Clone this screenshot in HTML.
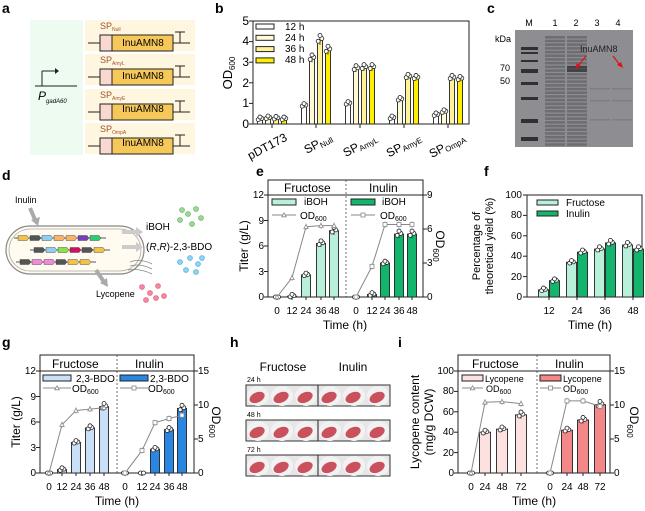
<!DOCTYPE html>
<html><head><meta charset="utf-8"><style>
body{margin:0;background:#fff}
svg{display:block;font-family:"Liberation Sans",Arial,sans-serif}
.pl{font-weight:bold;font-size:14px}
.t{font-size:10px}
.ax{font-size:12px}
</style></head><body>
<svg id="s" width="645" height="511" viewBox="0 0 645 511" xmlns="http://www.w3.org/2000/svg">
<g id="g"></g>
<text class="pl" x="2" y="13">a</text>
<text class="pl" x="215" y="13">b</text>
<text class="pl" x="487" y="13">c</text>
<text class="pl" x="2" y="180">d</text>
<text class="pl" x="256" y="176">e</text>
<text class="pl" x="484" y="176">f</text>
<text class="pl" x="2" y="347">g</text>
<text class="pl" x="230" y="347">h</text>
<text class="pl" x="398" y="347">i</text>

<g font-size="9" fill="#a0522d">
<text x="100" y="29">SP<tspan font-size="5" dy="2">Null</tspan></text>
<text x="100" y="63">SP<tspan font-size="5" dy="2">AmyL</tspan></text>
<text x="100" y="98">SP<tspan font-size="5" dy="2">AmyE</tspan></text>
<text x="100" y="132">SP<tspan font-size="5" dy="2">OmpA</tspan></text>
</g>
<g font-size="10" text-anchor="middle">
<text x="143" y="46">InuAMN8</text>
<text x="143" y="79">InuAMN8</text>
<text x="143" y="112">InuAMN8</text>
<text x="143" y="146">InuAMN8</text>
</g>
<text x="38" y="100" font-size="12" font-style="italic">P<tspan font-size="6" dy="3">gadA60</tspan></text>

<g font-size="12" text-anchor="end">
<text x="249" y="128">0</text><text x="249" y="107">1</text><text x="249" y="87">2</text>
<text x="249" y="66">3</text><text x="249" y="45">4</text><text x="249" y="25">5</text>
</g>
<text transform="translate(232,73) rotate(-90)" font-size="13" text-anchor="middle">OD<tspan font-size="8" dy="3">600</tspan></text>
<g font-size="10">
<text x="285" y="30">12 h</text><text x="285" y="41">24 h</text><text x="285" y="52">36 h</text><text x="285" y="63">48 h</text>
</g>
<g font-size="12" text-anchor="end">
<text transform="translate(288,140) rotate(-28)">pDT173</text>
<text transform="translate(333,140) rotate(-28)">SP<tspan font-size="8" dy="2">Null</tspan></text>
<text transform="translate(378,140) rotate(-28)">SP<tspan font-size="8" dy="2">AmyL</tspan></text>
<text transform="translate(422,140) rotate(-28)">SP<tspan font-size="8" dy="2">AmyE</tspan></text>
<text transform="translate(466,140) rotate(-28)">SP<tspan font-size="8" dy="2">OmpA</tspan></text>
</g>

<g font-size="9" text-anchor="middle">
<text x="529" y="26">M</text><text x="555" y="26">1</text><text x="576" y="26">2</text><text x="597" y="26">3</text><text x="618" y="26">4</text>
</g>
<g font-size="9" text-anchor="end">
<text x="511" y="42">kDa</text><text x="510" y="71">70</text><text x="510" y="84">50</text>
</g>
<text x="580" y="52" font-size="9" fill="#222">InuAMN8</text>

<text x="15" y="203" font-size="9">Inulin</text>
<text x="146" y="230" font-size="10">iBOH</text>
<text x="146" y="250" font-size="10">(<tspan font-style="italic">R</tspan>,<tspan font-style="italic">R</tspan>)-2,3-BDO</text>
<text x="96" y="297" font-size="9">Lycopene</text>

<text x="284" y="192" font-size="12">Fructose</text>
<text x="369" y="192" font-size="12">Inulin</text>
<g class="t" text-anchor="end">
<text x="264" y="300">0</text><text x="264" y="275">3</text><text x="264" y="249">6</text><text x="264" y="224">9</text><text x="264" y="198">12</text>
</g>
<g class="t">
<text x="427" y="300">0</text><text x="427" y="266">3</text><text x="427" y="232">6</text><text x="427" y="198">9</text>
</g>
<g class="t" text-anchor="middle">
<text x="277" y="314">0</text><text x="292" y="314">12</text><text x="306" y="314">24</text><text x="321" y="314">36</text><text x="334" y="314">48</text>
<text x="356" y="314">0</text><text x="372" y="314">12</text><text x="385" y="314">24</text><text x="399" y="314">36</text><text x="412" y="314">48</text>
</g>
<text x="345" y="329" class="ax" text-anchor="middle">Time (h)</text>
<text transform="translate(248,246) rotate(-90)" class="ax" text-anchor="middle">Titer (g/L)</text>
<text transform="translate(436,246) rotate(90)" class="ax" text-anchor="middle">OD<tspan font-size="8" dy="3">600</tspan></text>
<g class="t">
<text x="304" y="205">iBOH</text><text x="300" y="219">OD<tspan font-size="7" dy="2">600</tspan></text>
<text x="382" y="205">iBOH</text><text x="380" y="219">OD<tspan font-size="7" dy="2">600</tspan></text>
</g>

<g class="t" text-anchor="end">
<text x="522" y="300">0</text><text x="522" y="280">20</text><text x="522" y="259">40</text><text x="522" y="239">60</text><text x="522" y="218">80</text><text x="522" y="198">100</text>
</g>
<g class="t" text-anchor="middle">
<text x="549" y="314">12</text><text x="577" y="314">24</text><text x="605" y="314">36</text><text x="633" y="314">48</text>
</g>
<text x="590" y="329" class="ax" text-anchor="middle">Time (h)</text>
<text transform="translate(480,246) rotate(-90)" font-size="11" text-anchor="middle">Percentage of</text>
<text transform="translate(493,246) rotate(-90)" font-size="11" text-anchor="middle">theoretical yield (%)</text>
<g class="t"><text x="566" y="206">Fructose</text><text x="566" y="217">Inulin</text></g>

<text x="52" y="368" font-size="12">Fructose</text>
<text x="135" y="368" font-size="12">Inulin</text>
<g class="t" text-anchor="end">
<text x="36" y="476">0</text><text x="36" y="451">3</text><text x="36" y="425">6</text><text x="36" y="400">9</text><text x="36" y="374">12</text>
</g>
<g class="t"><text x="198" y="476">0</text><text x="198" y="442">5</text><text x="198" y="408">10</text><text x="198" y="374">15</text></g>
<g class="t" text-anchor="middle">
<text x="49" y="490">0</text><text x="62" y="490">12</text><text x="76" y="490">24</text><text x="90" y="490">36</text><text x="104" y="490">48</text>
<text x="125" y="490">0</text><text x="142" y="490">12</text><text x="155" y="490">24</text><text x="169" y="490">36</text><text x="182" y="490">48</text>
</g>
<text x="117" y="505" class="ax" text-anchor="middle">Time (h)</text>
<text transform="translate(20,422) rotate(-90)" class="ax" text-anchor="middle">Titer (g/L)</text>
<text transform="translate(212,422) rotate(90)" class="ax" text-anchor="middle">OD<tspan font-size="8" dy="3">600</tspan></text>
<g class="t">
<text x="76" y="382">2,3-BDO</text><text x="72" y="392">OD<tspan font-size="7" dy="2">600</tspan></text>
<text x="150" y="382">2,3-BDO</text><text x="148" y="392">OD<tspan font-size="7" dy="2">600</tspan></text>
</g>

<text x="283" y="371" font-size="12" text-anchor="middle">Fructose</text>
<text x="353" y="371" font-size="12" text-anchor="middle">Inulin</text>
<g font-size="7"><text x="247" y="382">24 h</text><text x="247" y="417">48 h</text><text x="247" y="452">72 h</text></g>

<text x="472" y="368" font-size="12">Fructose</text>
<text x="555" y="368" font-size="12">Inulin</text>
<g class="t" text-anchor="end">
<text x="454" y="476">0</text><text x="454" y="456">20</text><text x="454" y="435">40</text><text x="454" y="415">60</text><text x="454" y="394">80</text><text x="454" y="374">100</text>
</g>
<g class="t"><text x="614" y="476">0</text><text x="614" y="442">5</text><text x="614" y="408">10</text><text x="614" y="374">15</text></g>
<g class="t" text-anchor="middle">
<text x="471" y="490">0</text><text x="485" y="490">24</text><text x="502" y="490">48</text><text x="521" y="490">72</text>
<text x="550" y="490">0</text><text x="567" y="490">24</text><text x="583" y="490">48</text><text x="600" y="490">72</text>
</g>
<text x="534" y="505" class="ax" text-anchor="middle">Time (h)</text>
<text transform="translate(419,422) rotate(-90)" class="ax" text-anchor="middle">Lycopene content</text>
<text transform="translate(433,422) rotate(-90)" class="ax" text-anchor="middle">(mg/g DCW)</text>
<text transform="translate(630,422) rotate(90)" class="ax" text-anchor="middle">OD<tspan font-size="8" dy="3">600</tspan></text>
<g font-size="9">
<text x="485" y="382">Lycopene</text><text x="486" y="392">OD<tspan font-size="7" dy="2">600</tspan></text>
<text x="563" y="382">Lycopene</text><text x="563" y="392">OD<tspan font-size="7" dy="2">600</tspan></text>
</g>
</svg>
<script>
var G=document.getElementById('g'),NS='http://www.w3.org/2000/svg';
function el(t,a){var e=document.createElementNS(NS,t);for(var k in a)e.setAttribute(k,a[k]);G.appendChild(e);return e;}
function R(x,y,w,h,f,s,sw){return el('rect',{x:x,y:y,width:w,height:h,fill:f||'none',stroke:s||'none','stroke-width':sw||1});}
function L(x1,y1,x2,y2,s,sw,da){var a={x1:x1,y1:y1,x2:x2,y2:y2,stroke:s||'#000','stroke-width':sw||1};if(da)a['stroke-dasharray']=da;return el('line',a);}
function C(x,y,r,f,s){return el('circle',{cx:x,cy:y,r:r,fill:f||'#fff',stroke:s||'#000','stroke-width':0.8});}
function bar(xc,v,w,y0,sc,f){var h=v*sc;R(xc-w/2,y0-h,w,h,f,'#222',0.9);var j=[-1.5,1.5,0];var d=[0.5,-0.3,-1.2];var sd=Math.max(1.5,h*0.04);
 if(h>3){L(xc,y0-h-sd*1.6,xc,y0-h+sd*1.6,'#222',0.8);L(xc-1.5,y0-h-sd*1.6,xc+1.5,y0-h-sd*1.6,'#222',0.8);}
 for(var i=0;i<3;i++)C(xc+j[i]*1.2,y0-h+d[i]*sd,2,'#fff','#222');}
R(30,20,53,135,'#eefbf0');
var rows=[20,54,89,123];
rows.forEach(function(y){R(85,y,110,31,'#fff6e0');var ly=y+23;L(88,ly,100,ly,'#222',1);R(100,y+15,12,16,'#f9d8d0','#222',1);R(112,y+15,61,16,'#f6c85a','#222',1);L(173,ly,190,ly,'#222',1);L(180,y+12,180,ly,'#222',1);L(175,y+12,185,y+12,'#222',1);});
L(35,86,77,86,'#222',1);L(42,86,42,71,'#222',1);L(42,71,55,71,'#222',1);el('path',{d:'M55,68 L59,71 L55,74 Z',fill:'#222'});
R(253,21,216,103,'none','#222',1);
for(var i=0;i<=5;i++)L(249,124-i*20.6,253,124-i*20.6,'#222',1);
[272,316,360,404,448].forEach(function(x){L(x,124,x,128,'#222',1);});
var bc=['#ffffff','#fffbd6','#fff39a','#ffee00'];
var bv=[[0.25,0.3,0.28,0.25],[0.9,3.2,4.1,3.6],[1.0,2.7,2.75,2.75],[0.3,1.2,2.3,2.25],[0.45,0.6,2.25,2.2]];
[272,316,360,404,448].forEach(function(x,g){[-12,-4,4,12].forEach(function(o,k){bar(x+o,bv[g][k],5,124,20.6,bc[k]);});});
for(var k=0;k<4;k++)R(256,24+k*11.3,18,5,bc[k],'#222',1);
// gel
R(515,30,118,117,'#8e8e92');
[[47,3],[52,2],[60,2],[69,4],[82,3],[97,3],[119,4],[137,4]].forEach(function(b){R(521,b[0],17,b[1],'rgba(30,30,35,0.85)');});
for(var y=36;y<145;y+=3.7){var o=0.08+0.25*Math.abs(Math.sin(y*1.7));R(545,y,20,2.5,'rgba(45,45,50,'+o+')');R(567,y,20,2.5,'rgba(45,45,50,'+o+')');}
R(567,66,20,6,'rgba(30,30,35,0.55)');
[88,100,119].forEach(function(y){R(590,y,20,1.5,'rgba(60,60,65,0.18)');R(612,y,20,1.5,'rgba(60,60,65,0.18)');});
L(586,56,578,66,'#e01010',1.2);el('path',{d:'M575,69 L577,63 L581,66 Z',fill:'#e01010'});
L(613,56,620,65,'#e01010',1.2);el('path',{d:'M623,68 L617,65 L621,62 Z',fill:'#e01010'});
// d
el('rect',{x:6,y:226,width:138,height:48,rx:24,fill:'#fffbf0',stroke:'#888','stroke-width':1.2});
el('rect',{x:9,y:229,width:132,height:42,rx:21,fill:'none',stroke:'#aaa','stroke-width':0.8});
var gc=['#f2c14e','#555','#8fd0f0','#f7b36b','#f7b36b','#7a3fb8','#2ecc71'];
function genes(y,x0,cs){L(x0-4,y,x0+cs.length*12+4,y,'#222',0.8);cs.forEach(function(c,i){el('path',{d:'M'+(x0+i*12)+','+(y-2.5)+' h9 l2,2.5 l-2,2.5 h-9z',fill:c,stroke:'#333','stroke-width':0.4});});}
genes(238,18,gc);genes(250,34,['#555','#8fd0f0','#8ce04a','#d01060','#555','#f2c14e']);genes(262,20,['#555','#f08ad8','#f08ad8','#555','#f2c14e','#f2c14e']);
el('path',{d:'M30,208 L36,222',stroke:'#aaa','stroke-width':4});el('path',{d:'M31,220 L38,226 L40,217z',fill:'#aaa'});
el('path',{d:'M122,232 L136,232',stroke:'#ccc','stroke-width':4});el('path',{d:'M136,227 L143,232 L136,237z',fill:'#ccc'});
el('path',{d:'M122,247 L136,247',stroke:'#ccc','stroke-width':4});el('path',{d:'M136,242 L143,247 L136,252z',fill:'#ccc'});
el('path',{d:'M96,270 L104,282',stroke:'#aaa','stroke-width':4});el('path',{d:'M100,283 L108,287 L107,278z',fill:'#aaa'});
['M130,262 q10,-4 22,2','M130,266 q10,-3 22,3','M128,270 q12,-2 24,4'].forEach(function(d){el('path',{d:d,fill:'none',stroke:'#888','stroke-width':0.8});});
[[180,220],[188,214],[196,209],[192,224],[201,218],[182,210]].forEach(function(p){C(p[0],p[1],2.4,'#9ed89a','#6bb567');});
[[180,262],[190,258],[198,264],[186,270],[196,272],[202,258]].forEach(function(p){C(p[0],p[1],2.4,'#8fd4f4','#55aee0');});
[[142,287],[150,293],[158,286],[146,300],[156,298],[164,296]].forEach(function(p){C(p[0],p[1],2.4,'#f28ba0','#e06080');});
function dual(c){R(c.l,c.ht,c.r-c.l,c.top-c.ht,'none','#222',1);R(c.l,c.top,c.r-c.l,c.y0-c.top,'none','#222',1);
 L(c.div,c.ht,c.div,c.y0,'#333',0.7,'2,2');
 c.lt.forEach(function(v){var y=c.y0-v*c.ls;L(c.l-4,y,c.l,y,'#222',1);});
 c.rt.forEach(function(v){var y=c.y0-v*c.rs;L(c.r,y,c.r+4,y,'#222',1);});
 c.h.forEach(function(h,hi){h.x.forEach(function(x){L(x,c.y0,x,c.y0+3,'#222',1);});
  h.b.forEach(function(v,i){if(v>0.02)bar(h.x[i],v,c.bw,c.y0,c.ls,h.col);else{C(h.x[i]-1.5,c.y0,2,'#fff','#222');C(h.x[i]+1.5,c.y0,2,'#fff','#222');}});
  var pts=h.x.map(function(x,i){return x+','+(c.y0-h.od[i]*c.rs);}).join(' ');
  el('polyline',{points:pts,fill:'none',stroke:'#888','stroke-width':1});
  h.x.forEach(function(x,i){var y=c.y0-h.od[i]*c.rs;if(i>0)L(x,y-3,x,y+3,'#888',0.8);if(hi==0)el('path',{d:'M'+(x-2.2)+','+(y+1.8)+' L'+x+','+(y-2.2)+' L'+(x+2.2)+','+(y+1.8)+'z',fill:'#fff',stroke:'#888','stroke-width':0.8});else R(x-2,y-2,4,4,'#fff','#888',0.8);});
  var lx=h.lx;R(lx,c.lg1-3,c.lw,6,h.col,'#222',1);L(lx,c.lg2,lx+c.lw,c.lg2,'#888',1);
  var mx=lx+c.lw/2,my=c.lg2;if(hi==0)el('path',{d:'M'+(mx-2.2)+','+(my+1.8)+' L'+mx+','+(my-2.2)+' L'+(mx+2.2)+','+(my+1.8)+'z',fill:'#fff',stroke:'#888','stroke-width':0.8});else R(mx-2,my-2,4,4,'#fff','#888',0.8);
 });}
dual({l:268,r:423,ht:180,top:195,y0:297,div:346,ls:8.5,rs:11.333,lt:[0,3,6,9,12],rt:[0,3,6,9],bw:9,lg1:202,lg2:215,lw:24,
 h:[{x:[277,292,306,321,334],b:[0,0.1,2.6,6.3,7.8],od:[0,1.7,6.2,6.3,6.3],col:'#b9f0d9',lx:272},
    {x:[356,372,385,399,412],b:[0,0.3,4.0,7.4,7.4],od:[0,2.7,6.4,6.4,6.4],col:'#13b46c',lx:351}]});
dual({l:40,r:194,ht:355,top:371,y0:473,div:117,ls:8.5,rs:6.8,lt:[0,3,6,9,12],rt:[0,5,10,15],bw:9,lg1:378,lg2:388,lw:28,
 h:[{x:[49,62,76,90,104],b:[0,0.4,3.6,5.3,7.8],od:[0,7.1,9.2,9.4,9.6],col:'#c9e0f8',lx:43},
    {x:[125,142,155,169,182],b:[0,0,2.8,5.1,7.6],od:[0,3.3,7.4,8.0,8.5],col:'#2b86e2',lx:120}]});
dual({l:458,r:610,ht:355,top:371,y0:473,div:537,ls:1.02,rs:6.8,lt:[0,20,40,60,80,100],rt:[0,5,10,15],bw:11,lg1:378,lg2:388,lw:21,
 h:[{x:[471,485,502,521],b:[0,40,43,57],od:[0,10.4,10.5,10.2],col:'#fde1e1',lx:462},
    {x:[550,567,583,600],b:[0,42,52,67],od:[0,10.6,10.6,9.8],col:'#f48787',lx:540}]});
R(527,195,115,102,'none','#222',1);
for(var i=0;i<=5;i++)L(523,297-i*20.4,527,297-i*20.4,'#222',1);
var fv=[[7,16],[34,44],[47,53],[51,47]];
[549,577,605,633].forEach(function(x,g){L(x,297,x,300,'#222',1);bar(x-5.5,fv[g][0],10,297,1.02,'#b9f0d9');bar(x+5.5,fv[g][1],10,297,1.02,'#13b46c');});
R(537,200,21,5,'#b9f0d9','#222',1);R(537,211,21,5,'#13b46c','#222',1);
// h photos
[385,420,455].forEach(function(y){R(246,y,144,21,'#e6e6e6','#333',1);L(318,y,318,y+21,'#222',1);
 [258,282,306,330,354,378].forEach(function(x,i){el('ellipse',{cx:x,cy:y+11,rx:11,ry:10,fill:'#f2f2f2'});el('ellipse',{cx:x-1,cy:y+12,rx:8,ry:5,fill:'#c9505c',transform:'rotate(-25 '+x+' '+(y+12)+')'});});});
</script>
</body></html>
